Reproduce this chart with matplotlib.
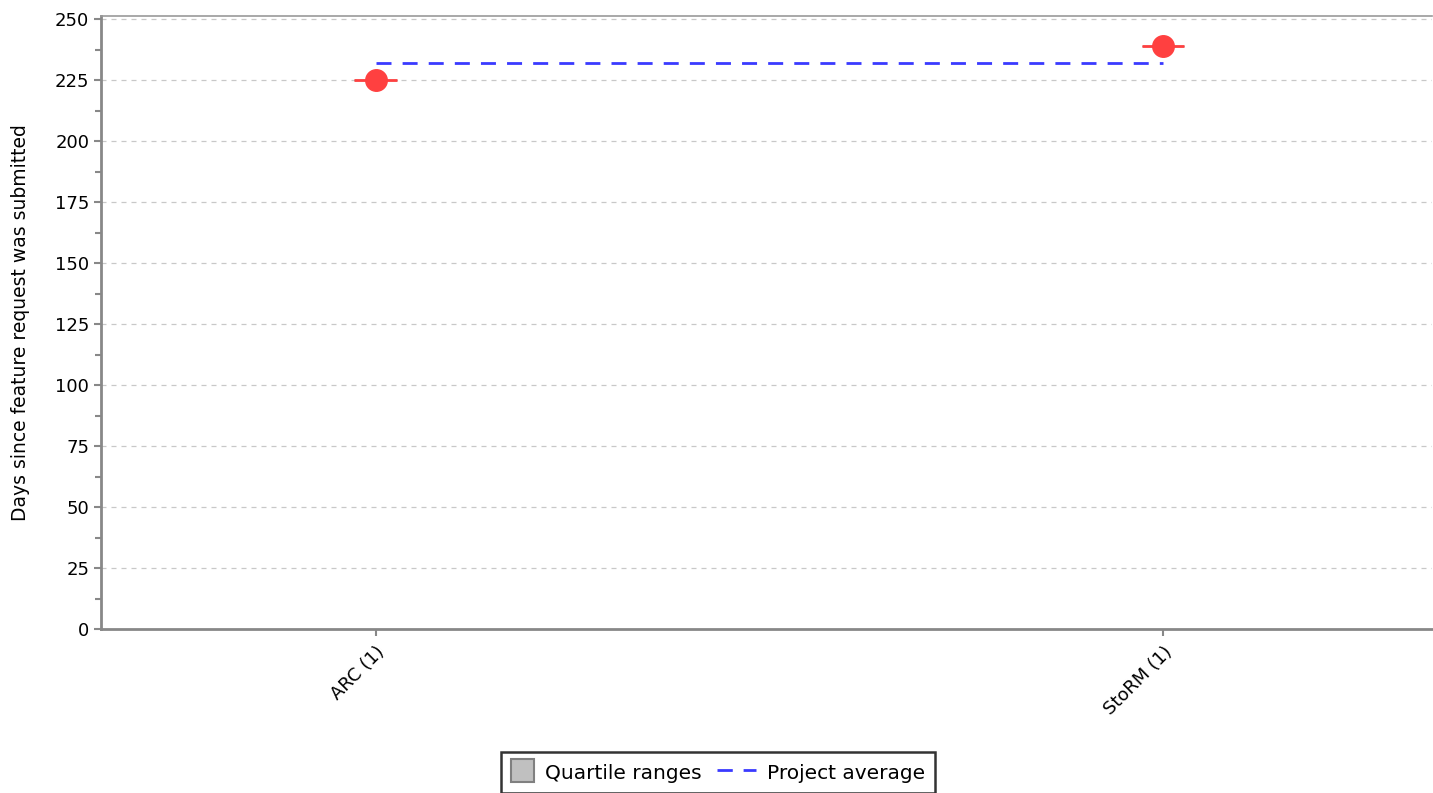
import matplotlib.pyplot as plt
import numpy as np
from matplotlib.patches import Patch, Rectangle
from matplotlib.lines import Line2D
from matplotlib.legend_handler import HandlerPatch, HandlerLine2D

categories = ["ARC (1)", "StoRM (1)"]
medians = [225, 239]
q1 = [225, 239]
q3 = [225, 239]
project_average = 232

fig = plt.figure(figsize=(14.33, 7.93), dpi=100)
ax = fig.add_axes([0.0705, 0.2068, 0.9288, 0.7730])

x = np.arange(len(categories))

# quartile boxes (zero height with one sample each)
for xi, lo, hi in zip(x, q1, q3):
    ax.add_patch(Rectangle((xi - 0.027, lo), 0.054, hi - lo,
                           facecolor="#c0c0c0", edgecolor="#808080", zorder=2))

# median dashes and markers
ax.hlines(medians, x - 0.027, x + 0.027, colors="#ff4040", linewidth=2, zorder=3)
ax.plot(x, medians, "o", color="#ff4040", markersize=15.5, zorder=4)

# project average
avg_dash = (0, (5.4, 4))
ax.plot([x[0], x[-1]], [project_average] * 2, color="#3a3aff", linestyle=avg_dash,
        linewidth=2, zorder=3)

ax.set_xlim(-0.349, 1.342)
ax.set_ylim(0, 251.3)
ax.set_yticks(np.arange(0, 251, 25))
ax.set_yticks(np.arange(12.5, 250, 25), minor=True)
ax.set_xticks(x)
ax.set_xticklabels(categories, rotation=45, ha="right", rotation_mode="anchor", fontsize=13)
ax.tick_params(axis="y", labelsize=13, length=5, width=1.5, color="#888888")
ax.tick_params(axis="y", which="minor", length=4, width=1.5, color="#888888")
ax.tick_params(axis="x", length=5, width=1.5, color="#888888", pad=5)
ax.grid(axis="y", color="#c8c8c8", linestyle=(0, (4, 4)), linewidth=0.9)
ax.set_axisbelow(True)

for side in ["left", "bottom"]:
    ax.spines[side].set_color("#888888")
    ax.spines[side].set_linewidth(2)
ax.spines["top"].set_color("#999999")
ax.spines["top"].set_linewidth(1.2)
ax.spines["right"].set_visible(False)

ax.set_ylabel("Days since feature request was submitted", fontsize=13.5)
ax.yaxis.set_label_coords(-0.053, 0.5)


def square_patch(legend, orig_handle, xdescent, ydescent, width, height, fontsize):
    return Rectangle((-xdescent, -ydescent), width, width)


class WideLine(HandlerLine2D):
    # stretch the legend line to the left, the patch keeps a square box
    def create_artists(self, legend, orig_handle, xdescent, ydescent, width, height,
                       fontsize, trans):
        extra = width * 0.7
        return super().create_artists(legend, orig_handle, xdescent + extra, ydescent,
                                      width + extra, height, fontsize, trans)


handles = [
    Patch(facecolor="#c0c0c0", edgecolor="#808080", linewidth=1.5, label="Quartile ranges"),
    Line2D([], [], color="#3a3aff", linestyle=(0, (5.5, 3.9)), linewidth=2, label="Project average"),
]
leg = fig.legend(handles=handles, loc="upper center", bbox_to_anchor=(0.501, 0.052), ncol=2,
                 frameon=True, fancybox=False, edgecolor="black", fontsize=14.5,
                 handlelength=1.15, handleheight=1.15, columnspacing=1.55,
                 handletextpad=0.55, borderpad=0.5, borderaxespad=0,
                 handler_map={Patch: HandlerPatch(patch_func=square_patch),
                              Line2D: WideLine()})
leg.get_frame().set_linewidth(1.8)

fig.savefig("out.png", dpi=100)
